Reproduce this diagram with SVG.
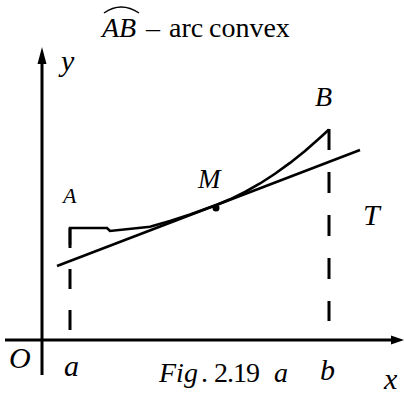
<svg xmlns="http://www.w3.org/2000/svg" width="404" height="395" viewBox="0 0 404 395">
<style>
text{font-family:"Liberation Serif","Times New Roman",serif;fill:#000}
.i{font-style:italic}
.ln{stroke:#000;fill:none;stroke-linecap:butt;stroke-linejoin:miter}
.ax{stroke-width:3}
.dash{stroke-width:3;stroke-dasharray:21 22}
</style>
<rect width="404" height="395" fill="#fff"/>
<g id="title">
<path class="ln" d="M104,13 Q121,1 139,13" stroke-width="1.5"/>
<text class="i" x="102" y="37" font-size="28">AB</text>
<text x="146" y="37" font-size="28">–</text>
<text x="169" y="37" font-size="28">arc</text>
<text x="209" y="37" font-size="28">convex</text>
</g>
<g id="axes">
<line class="ln ax" x1="42" y1="60" x2="42" y2="375"/>
<polygon points="42,47 46.5,64 37.5,64" fill="#000"/>
<line class="ln ax" x1="5" y1="340" x2="392" y2="340"/>
<polygon points="404,340 391,335.5 391,344.5" fill="#000"/>
<text class="i" x="61" y="71" font-size="30">y</text>
<text class="i" x="384" y="389" font-size="30">x</text>
<text class="i" x="9" y="368" font-size="30">O</text>
</g>
<g id="connectors">
<line class="ln dash" x1="70" y1="228" x2="70" y2="332" style="stroke-dasharray:20 21"/>
<line class="ln dash" x1="329" y1="129" x2="329" y2="321"/>
<path class="ln" stroke-width="2.6" d="M70,245 L70,228 L107,228 L110,231 L150,226.8 L170,221 L190,214.5 L217,204.7 L230,199.3 L245,192 L260,183.5 L275,173.8 L290,162.9 L305,151 L320,137.7 L329,129.5"/>
<line class="ln" stroke-width="2.6" x1="57" y1="266" x2="360" y2="150"/>
<circle cx="216" cy="208" r="3.5" fill="#000"/>
</g>
<g id="labels">
<text class="i" x="63" y="203" font-size="22">A</text>
<text class="i" x="198" y="188" font-size="27">M</text>
<text class="i" x="315" y="106" font-size="28">B</text>
<text class="i" x="363" y="225" font-size="30">T</text>
<text class="i" x="64" y="376" font-size="30">a</text>
<text class="i" x="320" y="380" font-size="30">b</text>
</g>
<g id="caption">
<text class="i" x="159" y="382" font-size="28">Fig</text>
<text x="201" y="382" font-size="28">.</text>
<text x="214" y="382" font-size="28" letter-spacing="-1">2.19</text>
<text class="i" x="274" y="382" font-size="28">a</text>
</g>
</svg>
